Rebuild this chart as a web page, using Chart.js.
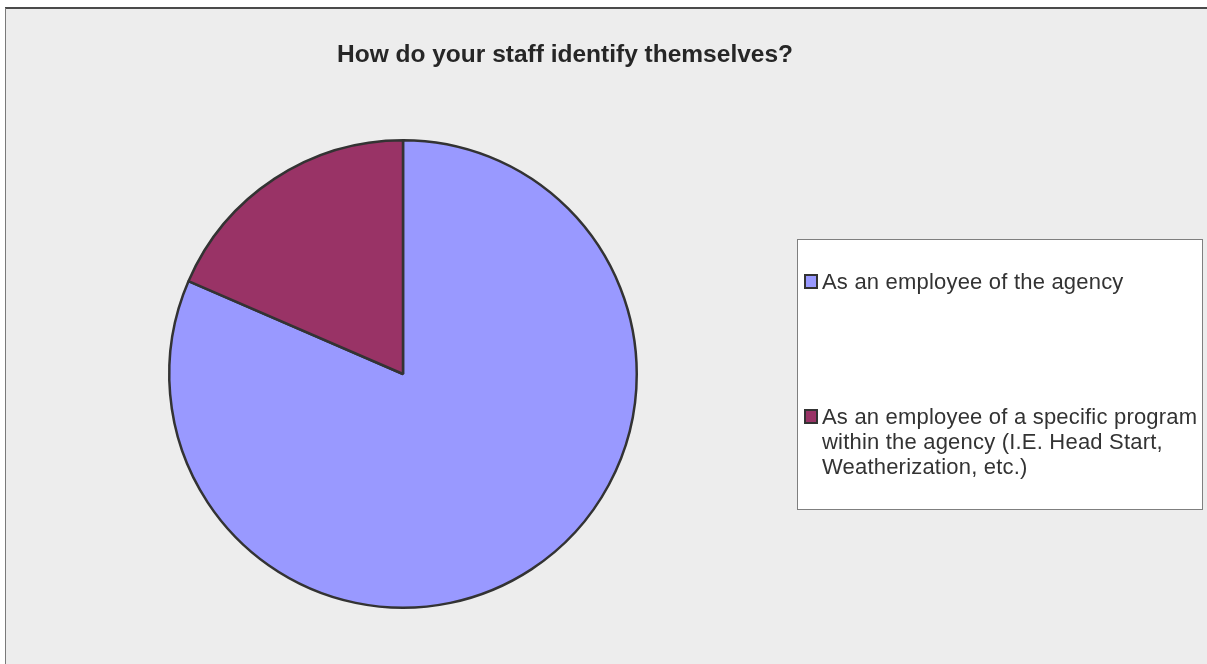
<!DOCTYPE html>
<html>
<head>
<meta charset="utf-8">
<script src="https://cdn.jsdelivr.net/npm/chart.js@4.4.1/dist/chart.umd.min.js"></script>
<style>
  html, body { margin: 0; padding: 0; background: #ffffff; }
  #wrap { position: relative; width: 1207px; height: 664px; }
  canvas { display: block; }
</style>
</head>
<body>
<div id="wrap"><canvas id="pie" width="1207" height="664"></canvas></div>
<script>
// ---------------------------------------------------------
// DATA
// ---------------------------------------------------------
const chartTitle = "How do your staff identify themselves?";
const categories = [
  "As an employee of the agency",
  "As an employee of a specific program within the agency (I.E. Head Start, Weatherization, etc.)"
];
// legend text, already broken into lines
const legendLines = [
  ["As an employee of the agency"],
  ["As an employee of a specific program", "within the agency (I.E. Head Start,", "Weatherization, etc.)"]
];
const shares = [81.5, 18.5];
const sliceColors = ["#9999ff", "#993366"];

// ---------------------------------------------------------
// FRAME + TITLE + LEGEND BOX (drawn by hand, like the old office charts)
// ---------------------------------------------------------
const framePlugin = {
  id: "frame",
  beforeDraw(chart) {
    const ctx = chart.ctx;
    ctx.save();
    ctx.fillStyle = "#ffffff";
    ctx.fillRect(0, 0, chart.width, chart.height);
    ctx.fillStyle = "#ededed";
    ctx.fillRect(5, 8, chart.width, chart.height);
    // top edge darker than the left one
    ctx.fillStyle = "#4a4a4a";
    ctx.fillRect(5, 7, chart.width, 2);
    ctx.fillStyle = "#7a7a7a";
    ctx.fillRect(5, 8, 1, chart.height);
    ctx.restore();
  },
  afterDraw(chart) {
    const ctx = chart.ctx;
    ctx.save();

    // title
    ctx.fillStyle = "#262626";
    ctx.font = "bold 24.5px 'Liberation Sans', Arial, sans-serif";
    ctx.letterSpacing = "0px";
    ctx.textAlign = "center";
    ctx.textBaseline = "alphabetic";
    ctx.fillText(chartTitle, 565, 62);

    // legend box
    ctx.fillStyle = "#ffffff";
    ctx.fillRect(797.5, 239.5, 405, 270);
    ctx.strokeStyle = "#7f7f7f";
    ctx.lineWidth = 1;
    ctx.strokeRect(797.5, 239.5, 405, 270);

    const tops = [289, 424];
    ctx.font = "22px 'Liberation Sans', Arial, sans-serif";
    ctx.letterSpacing = "0.2px";
    ctx.textAlign = "left";
    legendLines.forEach((lines, i) => {
      const base = tops[i];
      ctx.fillStyle = sliceColors[i];
      ctx.fillRect(805, base - 14, 12, 13);
      ctx.strokeStyle = "#333333";
      ctx.lineWidth = 2;
      ctx.strokeRect(805, base - 14, 12, 13);
      ctx.fillStyle = "#333333";
      lines.forEach((t, j) => ctx.fillText(t, 822, base + j * 25));
    });

    ctx.restore();
  }
};

// ---------------------------------------------------------
// CHART
// ---------------------------------------------------------
new Chart(document.getElementById("pie"), {
  type: "pie",
  data: {
    labels: categories,
    datasets: [{
      data: shares,
      backgroundColor: sliceColors,
      borderColor: "#333333",
      borderWidth: 2.5,
      hoverOffset: 0
    }]
  },
  options: {
    responsive: false,
    animation: false,
    layout: { padding: { left: 168, right: 569, top: 139, bottom: 55 } },
    plugins: {
      legend: { display: false },
      title: { display: false },
      tooltip: { enabled: false }
    }
  },
  plugins: [framePlugin]
});
</script>
</body>
</html>
